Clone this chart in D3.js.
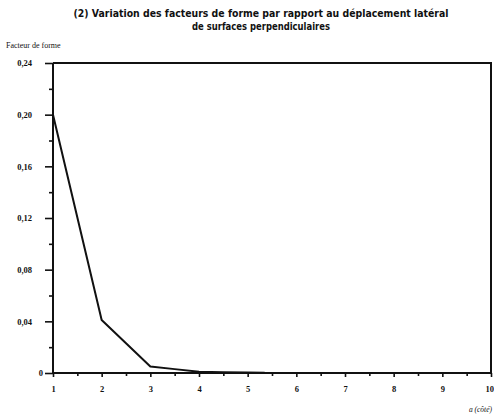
<!DOCTYPE html>
<html>
<head>
<meta charset="utf-8">
<script src="https://cdn.jsdelivr.net/npm/d3@7"></script>
<style>
  html, body { margin: 0; padding: 0; background: #fff; }
  svg { display: block; }
</style>
</head>
<body>
<svg id="chart" width="494" height="417"></svg>
<script>
// Shape factor vs lateral offset of perpendicular surfaces
const titleLines = [
  "(2)  Variation des facteurs de forme par rapport au déplacement latéral",
  "de surfaces perpendiculaires"
];
const titleWidths = [375, 138];
const yAxisTitle = "Facteur de forme";
const xAxisTitle = "a (côté)";

const offsets = [1, 2, 2.5, 3, 3.5, 4, 4.5, 5, 5.35];
const factors = [0.20, 0.041, 0.023, 0.005, 0.003, 0.001, 0.0005, 0.0003, 0.0002];

const xTicks = [1, 2, 3, 4, 5, 6, 7, 8, 9, 10];
const xMinorTicks = [1.5, 2.5, 3.5, 4.5, 5.5, 6.5, 7.5, 8.5, 9.5];
const yTicks = [0, 0.04, 0.08, 0.12, 0.16, 0.20, 0.24];
const yMinorTicks = [0.02, 0.06, 0.10, 0.14, 0.18, 0.22];

const svg = d3.select("#chart");
const ink = "#111";
const margin = { left: 53, right: 3, top: 63, bottom: 44 };
const W = 494, H = 417;

const x = d3.scaleLinear().domain([1, 10]).range([margin.left, W - margin.right]);
const y = d3.scaleLinear().domain([0, 0.24]).range([H - margin.bottom, margin.top]);

const g = svg.append("g");

// Title
g.selectAll("text.title").data(titleLines).join("text")
  .attr("class", "title")
  .attr("x", 261).attr("y", (d, i) => 17 + i * 13)
  .attr("text-anchor", "middle")
  .attr("font-family", "'DejaVu Sans', sans-serif")
  .attr("font-weight", "bold")
  .attr("font-size", 10.5)
  .attr("textLength", (d, i) => titleWidths[i])
  .attr("lengthAdjust", "spacingAndGlyphs")
  .attr("fill", ink)
  .text(d => d);

// Axis titles
g.append("text")
  .attr("x", 6).attr("y", 48)
  .attr("font-family", "'Liberation Serif', serif")
  .attr("font-size", 8).attr("fill", ink)
  .text(yAxisTitle);
g.append("text")
  .attr("x", 492).attr("y", 412)
  .attr("text-anchor", "end")
  .attr("font-family", "'Liberation Serif', serif")
  .attr("font-size", 7.5).attr("font-style", "italic").attr("fill", ink)
  .text(xAxisTitle);

// Y axis (major + minor ticks)
const yAxis = d3.axisLeft(y).tickValues(yTicks).tickSize(8).tickPadding(13)
  .tickFormat(d => d === 0 ? "0" : d3.format(".2f")(d).replace(".", ","));
const yG = g.append("g").attr("transform", `translate(${margin.left},0)`).call(yAxis);
g.append("g").attr("transform", `translate(${margin.left},0)`)
  .call(d3.axisLeft(y).tickValues(yMinorTicks).tickSize(4).tickFormat(""))
  .select(".domain").remove();

// X axis (major + minor ticks)
const xAxis = d3.axisBottom(x).tickValues(xTicks).tickSize(4).tickPadding(9)
  .tickFormat(d3.format("d"));
const xG = g.append("g").attr("transform", `translate(0,${H - margin.bottom})`).call(xAxis);
g.append("g").attr("transform", `translate(0,${H - margin.bottom})`)
  .call(d3.axisBottom(x).tickValues(xMinorTicks).tickSize(3).tickFormat(""))
  .select(".domain").remove();

svg.selectAll(".domain").attr("stroke", ink).attr("stroke-width", 2);
svg.selectAll(".tick line").attr("stroke", ink).attr("stroke-width", 1.6);
svg.selectAll(".tick text")
  .attr("font-family", "'Liberation Serif', serif")
  .attr("font-size", 8.5).attr("font-weight", "bold").attr("fill", ink);
yG.select(".domain").attr("d", `M0,${y(0)}V${y(0.24)}`);
xG.select(".domain").attr("d", `M${x(1)},0H${x(10)}`);
// the zero label sits right next to its tick
yG.selectAll(".tick text").filter(d => d === 0).attr("x", -10);
// last x label sits against the right edge
xG.selectAll(".tick text").filter(d => d === 10)
  .attr("text-anchor", "end").attr("dx", 2.5);

// Frame: top and right edges
g.append("path")
  .attr("d", `M${x(1)},${y(0.24)}H${x(10)}V${y(0)}`)
  .attr("fill", "none").attr("stroke", ink).attr("stroke-width", 2);

// Curve
const line = d3.line().x((d, i) => x(offsets[i])).y(d => y(d));
g.append("path")
  .datum(factors)
  .attr("d", line)
  .attr("fill", "none")
  .attr("stroke", ink)
  .attr("stroke-width", 2)
  .attr("stroke-linejoin", "round");
</script>
</body>
</html>
